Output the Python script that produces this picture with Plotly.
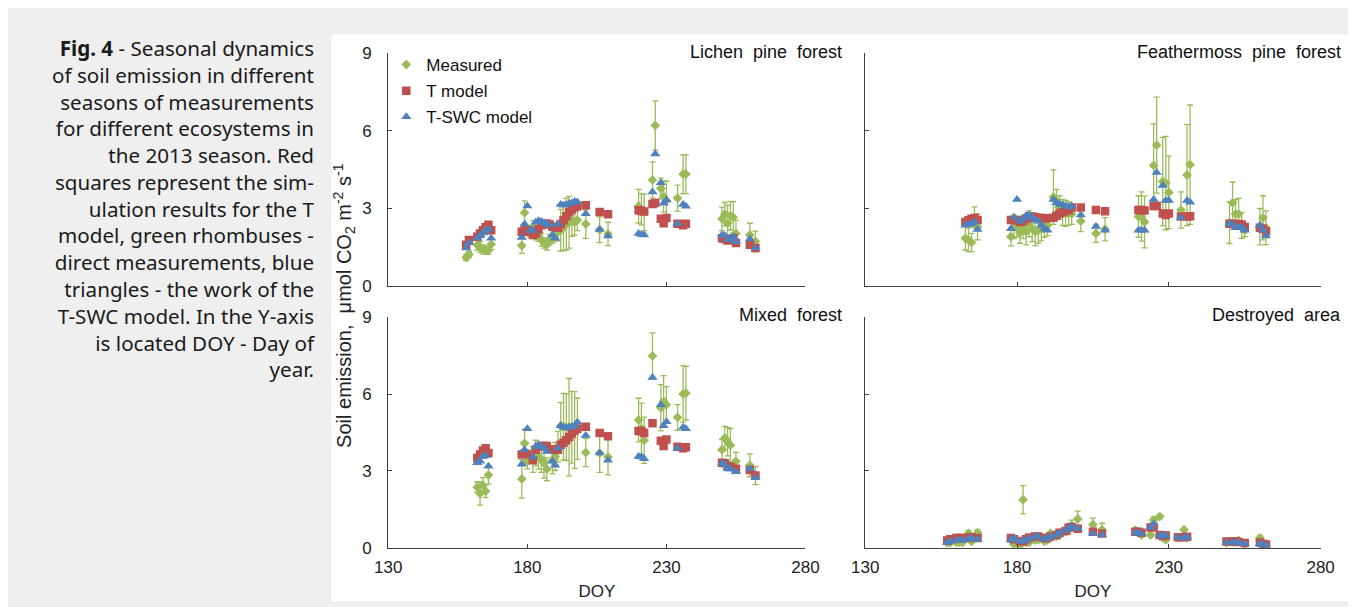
import plotly.graph_objects as go

W, H = 1356, 607

# ---------------- data ----------------
lichen_doy = [158, 159, 162, 163, 164, 165, 166, 167,
              178, 179, 180, 181, 182, 183, 184, 185, 186, 187, 188, 189, 190, 191, 192, 193, 194, 195, 196, 197, 198, 201,
              206, 209,
              220, 221, 222, 225, 226, 228, 229, 230, 234, 236, 237,
              250, 251, 252, 253, 254, 255,
              260, 262]
lichen_meas = [1.11, 1.23, 1.60, 1.52, 1.42, 1.40, 1.38, 1.62,
               1.57, 2.84, 2.15, 2.10, 2.28, 2.04, 1.98, 1.80, 1.67, 1.60, 1.80, 1.92, 2.04, 2.10, 2.16, 2.28, 2.40, 2.47, 2.53, 2.47, 2.55, 2.40,
               2.18, 2.02,
               3.09, 2.97, 2.85, 4.10, 6.20, 3.77, 3.46, 3.30, 3.40, 4.32, 4.32,
               2.60, 2.78, 2.43, 2.72, 2.66, 2.04,
               1.98, 1.73]
lichen_err = [0.12, 0.12, 0.2, 0.2, 0.18, 0.15, 0.15, 0.2,
              0.3, 0.45, 0.2, 0.2, 0.25, 0.25, 0.25, 0.25, 0.2, 0.2, 0.2, 0.25, 0.3, 0.35, 0.8, 0.9, 1.0, 1.0, 0.6, 0.5, 0.4, 0.55,
              0.5, 0.45,
              0.65, 0.6, 0.7, 0.7, 0.95, 0.4, 0.6, 0.75, 0.5, 0.75, 0.75,
              0.45, 0.45, 0.7, 0.55, 0.6, 0.5,
              0.45, 0.4]
lichen_t = [1.60, 1.78, 1.91, 2.04, 2.16, 2.28, 2.37, 2.16,
            2.10, 2.15, 2.16, 2.10, 1.98, 2.04, 2.20, 2.35, 2.40, 2.42, 2.38, 2.30, 2.28, 2.26, 2.40, 2.55, 2.70, 2.85, 2.96, 3.05, 3.09, 3.12,
            2.86, 2.78,
            2.93, 2.90, 2.88, 3.17, 3.21, 2.60, 2.43, 2.63, 2.41, 2.35, 2.41,
            1.85, 1.82, 1.77, 1.80, 1.85, 1.67,
            1.60, 1.48]
lichen_tswc = [1.48, 1.68, 1.85, 1.95, 2.05, 2.15, 2.20, 1.85,
               1.88, 2.40, 3.10, 2.15, 2.15, 2.47, 2.53, 2.50, 2.45, 2.40, 2.35, 1.98, 1.85, 2.40, 3.15, 3.12, 3.15, 3.19, 3.21, 3.27, 3.25, 2.80,
               2.19, 1.94,
               2.04, 2.00, 1.98, 3.64, 5.10, 3.99, 3.20, 3.33, 2.41, 3.15, 3.09,
               1.98, 1.96, 1.79, 1.82, 1.91, 1.72,
               1.82, 1.48]

feather_doy = [163, 164, 165, 166, 167,
               178, 179, 180, 181, 182, 183, 184, 185, 186, 187, 188, 189, 190, 192, 193, 194, 195, 196, 197, 198, 201,
               206, 209,
               220, 221, 222, 225, 226, 228, 229, 230, 234, 236, 237,
               250, 251, 252, 253, 254, 255,
               260, 261, 262]
feather_meas = [1.85, 1.79, 1.69, 2.66, 2.29,
                1.91, 2.29, 2.30, 2.06, 2.29, 2.10, 2.41, 2.22, 2.12, 2.16, 2.20, 2.29, 2.35, 3.44, 3.29, 3.04, 2.85, 2.81, 2.81, 2.79, 2.51,
                2.04, 2.20,
                2.69, 2.69, 2.48, 4.66, 5.44, 4.04, 3.98, 3.62, 2.94, 4.29, 4.69,
                2.45, 3.22, 2.79, 2.79, 2.35, 2.16,
                2.30, 2.64, 2.26]
feather_err = [0.45, 0.45, 0.35, 0.4, 0.5,
               0.35, 0.45, 0.4, 0.4, 0.45, 0.5, 0.5, 0.5, 0.55, 0.5, 0.45, 0.4, 0.4, 1.05, 0.45, 0.45, 0.5, 0.5, 0.45, 0.4, 0.4,
               0.35, 0.45,
               0.8, 0.95, 1.0, 1.6, 1.85, 1.7, 1.8, 1.4, 0.7, 1.95, 2.3,
               0.8, 0.8, 0.55, 0.6, 0.5, 0.25,
               0.7, 0.85, 0.65]
feather_t = [2.48, 2.55, 2.60, 2.63, 2.56,
             2.56, 2.56, 2.55, 2.48, 2.52, 2.60, 2.69, 2.69, 2.66, 2.64, 2.63, 2.62, 2.62, 2.64, 2.72, 2.81, 2.85, 2.90, 2.94, 3.04, 3.04,
             2.94, 2.89,
             2.94, 2.94, 2.92, 3.10, 3.10, 2.81, 2.75, 2.81, 2.69, 2.69, 2.70,
             2.41, 2.41, 2.35, 2.40, 2.38, 2.29,
             2.26, 2.22, 2.12]
feather_tswc = [2.35, 2.38, 2.41, 2.48, 2.19,
                2.22, 2.66, 3.35, 2.51, 2.60, 2.72, 2.75, 2.66, 2.56, 2.51, 2.35, 2.22, 2.16, 3.35, 3.22, 3.16, 3.14, 3.10, 3.06, 3.10, 2.75,
                2.31, 2.16,
                2.16, 2.16, 2.16, 3.35, 4.39, 3.89, 3.31, 3.31, 2.64, 3.31, 3.24,
                2.41, 2.38, 2.26, 2.26, 2.30, 2.16,
                2.35, 2.16, 1.94]

mixed_doy = [162, 163, 164, 165, 166,
             178, 179, 180, 182, 183, 184, 185, 186, 187, 189, 190, 191, 192, 193, 194, 195, 196, 197, 198, 201,
             206, 209,
             220, 221, 222, 225, 228, 229, 230, 234, 236, 237,
             250, 251, 252, 253, 255,
             260, 262]
mixed_meas = [2.37, 2.12, 2.44, 2.21, 2.84,
              2.69, 4.08, 3.38, 3.45, 3.70, 3.57, 3.45, 3.32, 3.07, 3.40, 3.57, 3.95, 4.77, 4.73, 4.71, 4.71, 4.71, 4.60, 4.65, 3.72,
              3.70, 3.55,
              4.99, 4.65, 4.20, 7.49, 5.47, 5.72, 5.59, 5.09, 6.01, 6.04,
              3.83, 4.29, 4.14, 4.01, 3.38,
              3.22, 2.82]
mixed_err = [0.2, 0.45, 0.3, 0.25, 0.35,
             0.75, 0.55, 0.3, 0.5, 0.5, 0.5, 0.5, 0.6, 0.45, 0.5, 0.55, 0.6, 0.9, 1.3, 1.3, 1.9, 1.4, 1.5, 1.2, 0.55,
             0.75, 0.7,
             0.85, 1.0, 0.9, 0.9, 0.9, 1.0, 0.7, 0.5, 1.1, 1.05,
             0.4, 0.45, 0.55, 0.65, 0.35,
             0.45, 0.35]
mixed_t = [3.51, 3.64, 3.80, 3.89, 3.70,
           3.64, 3.67, 3.66, 3.42, 3.83, 3.95, 3.98, 3.98, 3.98, 3.85, 3.83, 3.83, 4.02, 4.10, 4.20, 4.33, 4.46, 4.58, 4.65, 4.73,
           4.48, 4.36,
           4.56, 4.56, 4.48, 4.86, 4.18, 3.98, 4.23, 3.95, 3.89, 3.93,
           3.32, 3.30, 3.19, 3.17, 3.09,
           3.04, 2.82]
mixed_tswc = [3.32, 3.38, 3.57, 3.60, 3.19,
              3.26, 3.83, 4.65, 3.55, 3.95, 4.02, 3.95, 3.90, 3.76, 3.38, 3.22, 3.89, 4.77, 4.71, 4.68, 4.71, 4.73, 4.77, 4.90, 4.39,
              3.70, 3.42,
              3.57, 3.55, 3.48, 6.65, 5.59, 4.77, 4.92, 3.89, 4.71, 4.65,
              3.30, 3.25, 3.09, 3.07, 2.97,
              3.09, 2.74]

destroyed_doy = [157, 158, 160, 161, 162, 164, 165, 167,
                 178, 179, 181, 182, 183, 184, 186, 187, 189, 190, 191, 193, 194, 196, 197, 198, 200,
                 205, 208,
                 219, 220, 221, 224, 225, 227, 228, 229, 233, 235, 236,
                 249, 251, 252, 253, 255,
                 260, 261, 262]
destroyed_meas = [0.19, 0.20, 0.21, 0.22, 0.21, 0.56, 0.25, 0.59,
                  0.30, 0.13, 0.09, 1.88, 0.21, 0.21, 0.30, 0.32, 0.25, 0.30, 0.56, 0.45, 0.50, 0.63, 0.70, 0.88, 1.13,
                  0.91, 0.71,
                  0.69, 0.60, 0.50, 0.50, 1.09, 1.22, 0.40, 0.31, 0.40, 0.71, 0.40,
                  0.19, 0.22, 0.25, 0.29, 0.13,
                  0.38, 0.12, 0.08]
destroyed_err = [0.05, 0.05, 0.05, 0.06, 0.06, 0.12, 0.06, 0.12,
                 0.05, 0.05, 0.05, 0.55, 0.05, 0.05, 0.05, 0.05, 0.05, 0.05, 0.08, 0.06, 0.06, 0.1, 0.15, 0.2, 0.3,
                 0.25, 0.25,
                 0.08, 0.08, 0.06, 0.06, 0.12, 0.08, 0.06, 0.06, 0.06, 0.06, 0.06,
                 0.05, 0.05, 0.05, 0.05, 0.05,
                 0.12, 0.05, 0.05]
destroyed_t = [0.29, 0.34, 0.38, 0.38, 0.38, 0.39, 0.41, 0.38,
               0.38, 0.34, 0.27, 0.25, 0.34, 0.40, 0.44, 0.44, 0.38, 0.38, 0.44, 0.50, 0.59, 0.66, 0.79, 0.81, 0.75,
               0.63, 0.56,
               0.63, 0.63, 0.59, 0.79, 0.81, 0.50, 0.46, 0.48, 0.41, 0.41, 0.43,
               0.25, 0.25, 0.25, 0.23, 0.19,
               0.21, 0.16, 0.13]
destroyed_tswc = [0.21, 0.25, 0.29, 0.29, 0.31, 0.34, 0.38, 0.34,
                  0.31, 0.38, 0.25, 0.27, 0.29, 0.38, 0.41, 0.44, 0.34, 0.38, 0.44, 0.50, 0.59, 0.69, 0.75, 0.84, 0.75,
                  0.56, 0.50,
                  0.59, 0.57, 0.54, 0.79, 0.94, 0.50, 0.44, 0.48, 0.41, 0.38, 0.41,
                  0.21, 0.21, 0.19, 0.21, 0.16,
                  0.16, 0.12, 0.09]

panel_titles = ["Lichen\u00a0 pine\u00a0 forest", "Feathermoss\u00a0 pine\u00a0 forest",
                "Mixed\u00a0 forest", "Destroyed\u00a0 area"]
series_names = ["Measured", "T model", "T-SWC model"]
x_ticks = [130, 180, 230, 280]
y_ticks = [0, 3, 6, 9]
x_title = "DOY"
y_title = "Soil emission,\u00a0 \u03bcmol CO<sub>2</sub> m<sup>-2</sup> s<sup>-1</sup>"

caption_lines = [
    "<b>Fig. 4</b> - Seasonal dynamics",
    "of soil emission in different",
    "seasons of measurements",
    "for different ecosystems in",
    "the 2013 season. Red",
    "squares represent the sim-",
    "ulation results for the T",
    "model, green rhombuses -",
    "direct measurements, blue",
    "triangles - the work of the",
    "T-SWC model. In the Y-axis",
    "is located DOY - Day of",
    "year.",
]

# ---------------- styling ----------------
GREEN = "#9BBB59"
RED = "#C0504D"
BLUE = "#4F81BD"
AXIS = "#404040"
FONT = "Arial, Liberation Sans, sans-serif"


def fx(px):
    return px / W


def fy(py):
    return 1 - py / H


# panel geometry in pixels: (left, right, bottom, top)
geom = [(374, 800, 278, 37), (861, 1326, 278, 37),
        (374, 800, 548, 310), (861, 1326, 548, 310)]
title_pos = [(839, 36), (1349, 36), (839, 308), (1349, 308)]

panels = [
    (lichen_doy, lichen_meas, lichen_err, lichen_t, lichen_tswc),
    (feather_doy, feather_meas, feather_err, feather_t, feather_tswc),
    (mixed_doy, mixed_meas, mixed_err, mixed_t, mixed_tswc),
    (destroyed_doy, destroyed_meas, destroyed_err, destroyed_t, destroyed_tswc),
]

fig = go.Figure()
layout = {}
for i, (doy, meas, err, tm, tswc) in enumerate(panels):
    n = i + 1
    xa = "x" if n == 1 else f"x{n}"
    ya = "y" if n == 1 else f"y{n}"
    show = (i == 0)
    fig.add_trace(go.Scatter(
        x=doy, y=meas, xaxis=xa, yaxis=ya, mode="markers", name=series_names[0],
        legendgroup="m", showlegend=show,
        marker=dict(symbol="diamond", size=7.5, color=GREEN),
        error_y=dict(type="data", array=err, visible=True, color=GREEN, thickness=1.3, width=3)))
    fig.add_trace(go.Scatter(
        x=doy, y=tm, xaxis=xa, yaxis=ya, mode="markers", name=series_names[1],
        legendgroup="t", showlegend=show,
        marker=dict(symbol="square", size=8.5, color=RED)))
    fig.add_trace(go.Scatter(
        x=doy, y=tswc, xaxis=xa, yaxis=ya, mode="markers", name=series_names[2],
        legendgroup="s", showlegend=show,
        marker=dict(symbol="triangle-up", size=9, color=BLUE)))

    l, r, b, t = geom[i]
    bottom_row = i >= 2
    left_col = i % 2 == 0
    xkey = "xaxis" if n == 1 else f"xaxis{n}"
    ykey = "yaxis" if n == 1 else f"yaxis{n}"
    xdef = dict(
        domain=[fx(l), fx(r)], range=[130, 280], anchor=ya,
        tickvals=x_ticks, showticklabels=bottom_row, ticks="inside", ticklen=4,
        tickcolor=AXIS, showline=True, linecolor=AXIS, linewidth=1.2,
        showgrid=False, zeroline=False, ticklabelstandoff=4,
        tickfont=dict(family=FONT, size=17, color="#222222"))
    if bottom_row:
        xdef["title"] = dict(text=x_title, standoff=8,
                             font=dict(family=FONT, size=17, color="#222222"))
    layout[xkey] = xdef
    layout[ykey] = dict(
        domain=[fy(b), fy(t)], range=[0, 9], anchor=xa,
        tickvals=y_ticks, showticklabels=left_col, ticks="inside", ticklen=4,
        tickcolor=AXIS, showline=True, linecolor=AXIS, linewidth=1.2,
        showgrid=False, zeroline=False, ticklabelstandoff=12,
        tickfont=dict(family=FONT, size=17, color="#222222"))

annotations = []
for (tx, ty), txt in zip(title_pos, panel_titles):
    annotations.append(dict(text=txt, x=fx(tx), y=fy(ty), xref="paper", yref="paper",
                            xanchor="right", yanchor="middle", showarrow=False,
                            font=dict(family=FONT, size=18, color="#111111")))

annotations.append(dict(text=y_title,
                        x=fx(329), y=fy(298), xref="paper", yref="paper", textangle=-90,
                        xanchor="center", yanchor="middle", showarrow=False,
                        font=dict(family=FONT, size=20, color="#222222")))

# caption: one right-aligned multi-line text block
annotations.append(dict(text="<br>".join(caption_lines), x=fx(301), y=fy(197.5),
                        xref="paper", yref="paper", xanchor="right", yanchor="middle",
                        align="right", showarrow=False,
                        font=dict(family="Noto Sans, Open Sans, sans-serif", size=20.6, color="#1a1a1a")))

fig.update_layout(
    width=W, height=H, margin=dict(l=0, r=0, t=0, b=0),
    paper_bgcolor="#EFEFEF", plot_bgcolor="white",
    shapes=[dict(type="rect", xref="paper", yref="paper", x0=fx(316), x1=1, y0=fy(603), y1=fy(18),
                 fillcolor="white", line=dict(width=0), layer="below")],
    annotations=annotations,
    legend=dict(x=fx(372), y=fy(31), xanchor="left", yanchor="top", bgcolor="rgba(0,0,0,0)",
                font=dict(family=FONT, size=17, color="#111111"), traceorder="grouped",
                tracegroupgap=1, itemwidth=30),
    **layout,
)

fig.write_html("out.html")
